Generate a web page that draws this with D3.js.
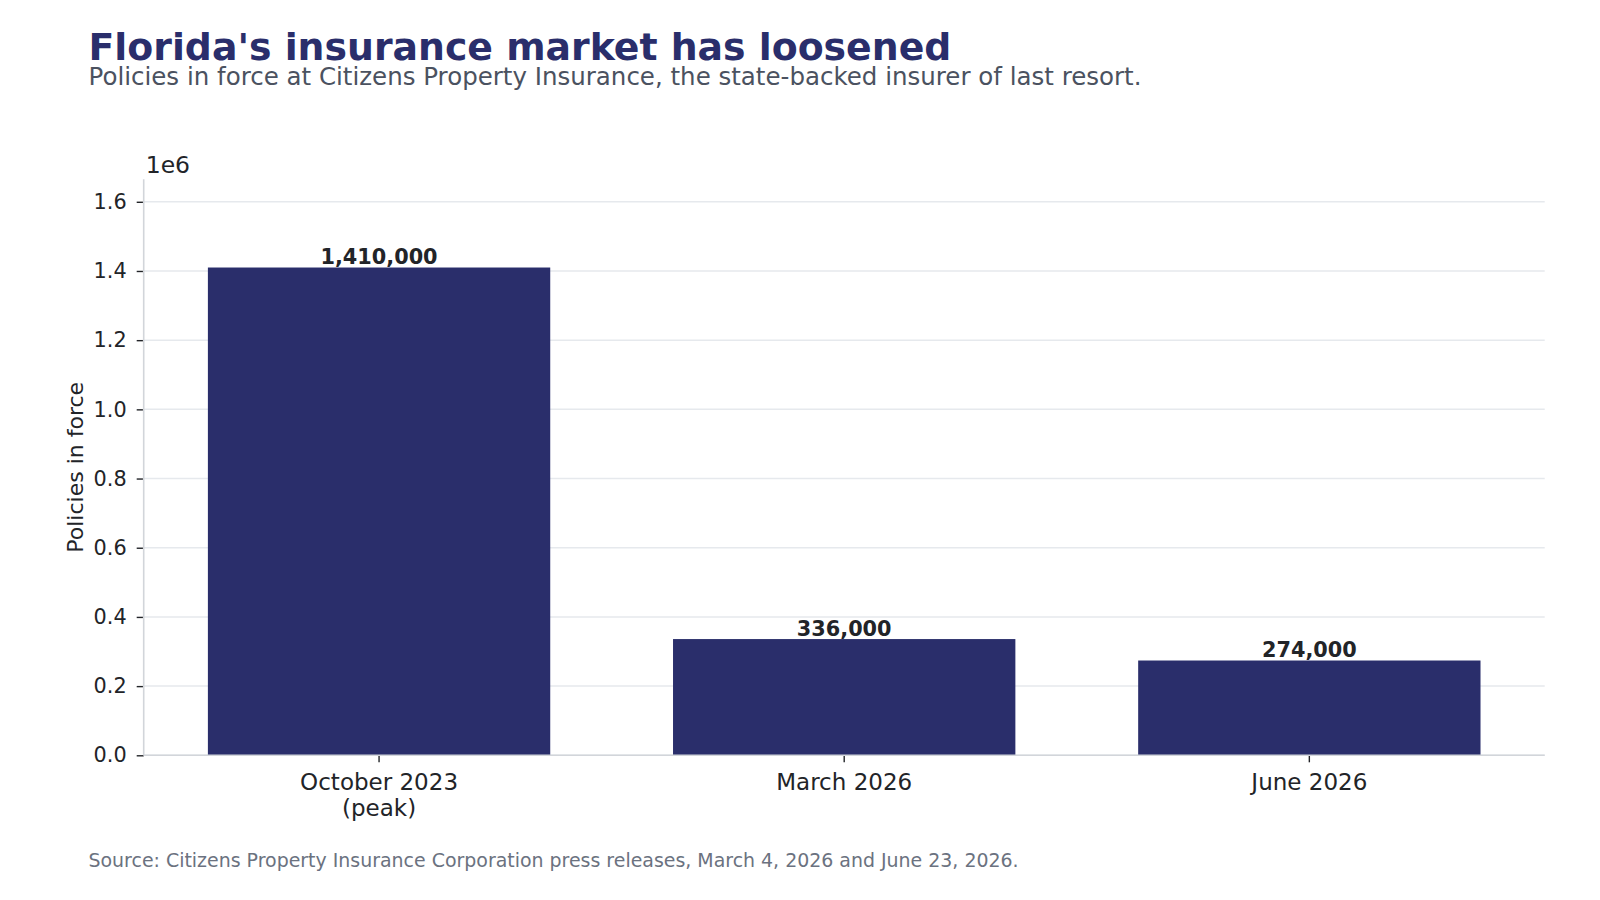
<!DOCTYPE html>
<html>
<head>
<meta charset="utf-8">
<script src="https://cdn.jsdelivr.net/npm/d3@7"></script>
<style>
  html, body { margin: 0; padding: 0; background: #ffffff; }
  svg { display: block; font-family: "DejaVu Sans", sans-serif; }
</style>
</head>
<body>
<svg id="chart" width="1600" height="900"></svg>
<script>
// ---- Data ----
const categories = ["October 2023\n(peak)", "March 2026", "June 2026"];
const values = [1410000, 336000, 274000];
const yTickValues = [0, 200000, 400000, 600000, 800000, 1000000, 1200000, 1400000, 1600000];
const titleText = "Florida's insurance market has loosened";
const subtitleText = "Policies in force at Citizens Property Insurance, the state-backed insurer of last resort.";
const yLabelText = "Policies in force";
const offsetText = "1e6";
const sourceText = "Source: Citizens Property Insurance Corporation press releases, March 4, 2026 and June 23, 2026.";

// ---- Layout ----
const W = 1600, H = 900;
const plot = { left: 143.7, right: 1544.7, top: 179.3, bottom: 755.3 };
const navy = "#2a2e6b";
const dark = "#222428";
const FONT = "DejaVu Sans";

const svg = d3.select("#chart");

const x = d3.scaleBand()
  .domain(categories)
  .range([plot.left, plot.right])
  .paddingInner(0.264)
  .paddingOuter(0.138);

const y = d3.scaleLinear()
  .domain([0, 1665000])
  .range([plot.bottom, plot.top]);

// gridlines
svg.append("g")
  .selectAll("line")
  .data(yTickValues)
  .join("line")
  .attr("x1", plot.left)
  .attr("x2", plot.right)
  .attr("y1", d => y(d))
  .attr("y2", d => y(d))
  .attr("stroke", "#e6e9ed")
  .attr("stroke-width", 1.5);

// bars
svg.append("g")
  .selectAll("rect")
  .data(values)
  .join("rect")
  .attr("x", (d, i) => x(categories[i]))
  .attr("width", x.bandwidth())
  .attr("y", d => y(d))
  .attr("height", d => y(0) - y(d))
  .attr("fill", navy);

// value labels
svg.append("g")
  .selectAll("text")
  .data(values)
  .join("text")
  .attr("x", (d, i) => x(categories[i]) + x.bandwidth() / 2)
  .attr("y", d => y(d) - 3.5)
  .attr("text-anchor", "middle")
  .attr("font-family", FONT)
  .attr("font-size", "20.8px")
  .attr("font-weight", "bold")
  .attr("fill", dark)
  .text(d => d3.format(",")(d));

// y axis
const yAxis = d3.axisLeft(y)
  .tickValues(yTickValues)
  .tickSize(7)
  .tickPadding(10)
  .tickFormat(d => (d / 1e6).toFixed(1));
const gy = svg.append("g")
  .attr("transform", `translate(${plot.left},0)`)
  .call(yAxis)
  .attr("font-family", FONT)
  .attr("font-size", "20.8px");
gy.select(".domain").remove();
gy.selectAll(".tick line").attr("stroke", dark).attr("stroke-width", 1.4);
gy.selectAll(".tick text").attr("fill", dark);

// x axis
const xAxis = d3.axisBottom(x).tickSize(7).tickPadding(10).tickFormat("");
const gx = svg.append("g")
  .attr("transform", `translate(0,${plot.bottom})`)
  .call(xAxis)
  .attr("font-family", FONT)
  .attr("font-size", "23px");
gx.select(".domain").remove();
gx.selectAll(".tick line").attr("stroke", dark).attr("stroke-width", 1.4);
gx.selectAll(".tick text").remove();
gx.selectAll(".tick")
  .append("text")
  .attr("text-anchor", "middle")
  .attr("fill", dark)
  .attr("y", 34.5)
  .each(function(d) {
    const lines = d.split("\n");
    const t = d3.select(this);
    lines.forEach((ln, k) => {
      t.append("tspan").attr("x", 0).attr("dy", k === 0 ? 0 : 26.5).text(ln);
    });
  });

// spines (left and bottom)
svg.append("line")
  .attr("x1", plot.left).attr("x2", plot.left)
  .attr("y1", plot.top).attr("y2", plot.bottom)
  .attr("stroke", "#d2d5da").attr("stroke-width", 1.6);
svg.append("line")
  .attr("x1", plot.left).attr("x2", plot.right)
  .attr("y1", plot.bottom).attr("y2", plot.bottom)
  .attr("stroke", "#d2d5da").attr("stroke-width", 1.6);

// offset text
svg.append("text")
  .attr("x", plot.left + 2)
  .attr("y", 173)
  .attr("font-family", FONT)
  .attr("font-size", "23.5px")
  .attr("fill", dark)
  .text(offsetText);

// y label
svg.append("text")
  .attr("transform", `translate(82.5,${(plot.top + plot.bottom) / 2}) rotate(-90)`)
  .attr("text-anchor", "middle")
  .attr("font-family", FONT)
  .attr("font-size", "22px")
  .attr("fill", dark)
  .text(yLabelText);

// title
svg.append("text")
  .attr("x", 88.5)
  .attr("y", 59.5)
  .attr("font-family", FONT)
  .attr("font-size", "37.8px")
  .attr("font-weight", "bold")
  .attr("fill", navy)
  .text(titleText);

// subtitle
svg.append("text")
  .attr("x", 88.5)
  .attr("y", 85)
  .attr("font-family", FONT)
  .attr("font-size", "24.5px")
  .attr("fill", "#4b5260")
  .text(subtitleText);

// source
svg.append("text")
  .attr("x", 88.5)
  .attr("y", 867)
  .attr("font-family", FONT)
  .attr("font-size", "18.95px")
  .attr("fill", "#6b7280")
  .text(sourceText);
</script>
</body>
</html>
